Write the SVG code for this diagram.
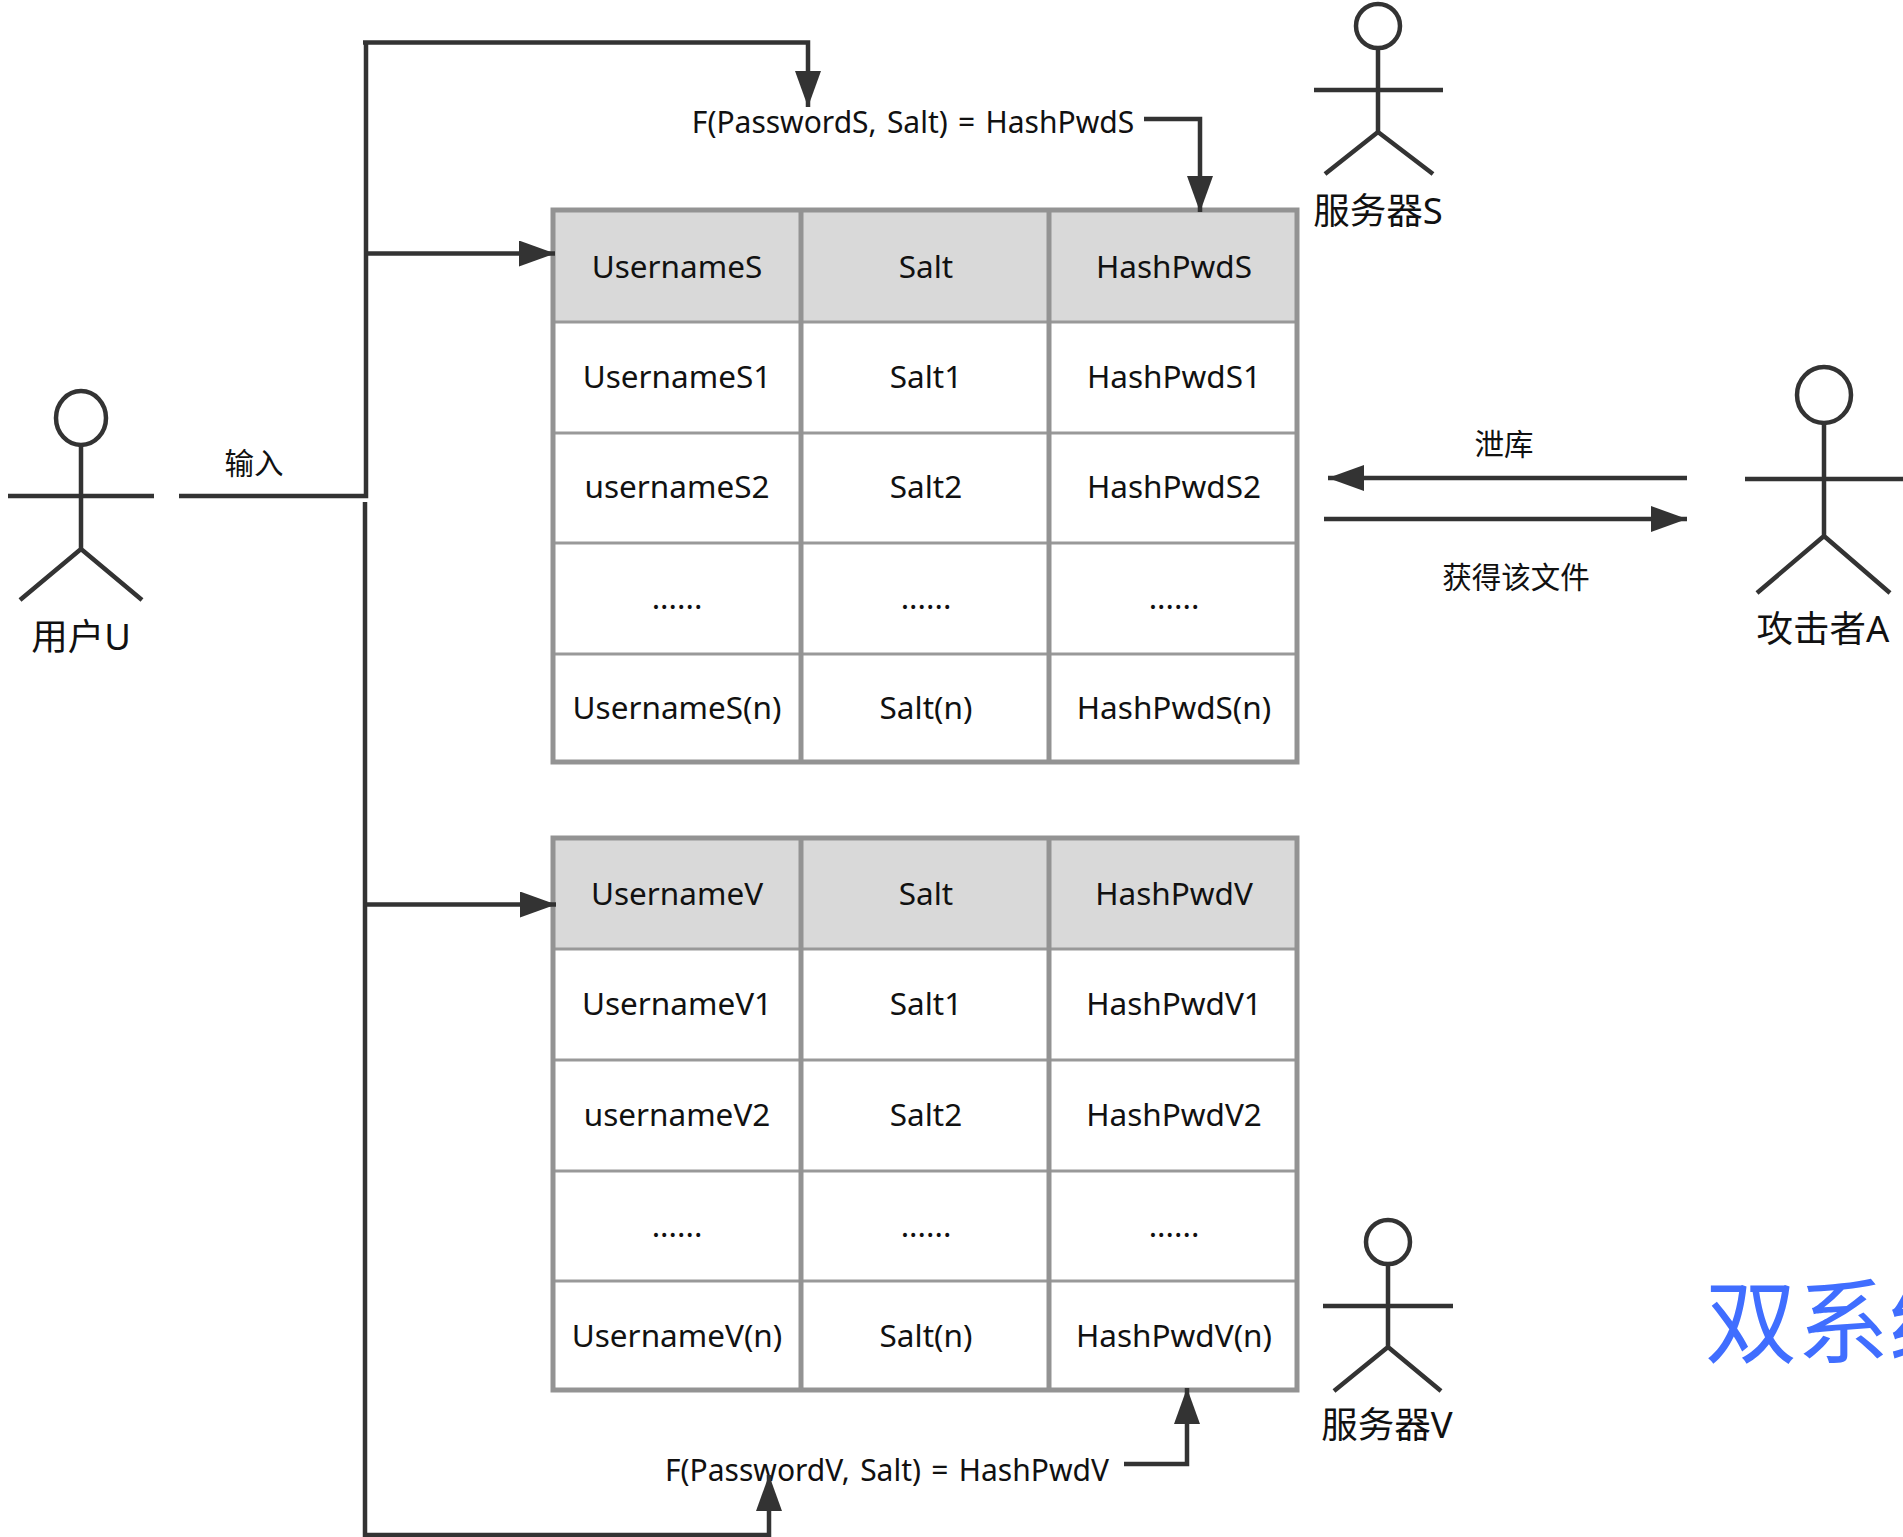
<svg xmlns="http://www.w3.org/2000/svg" width="1903" height="1537" viewBox="0 0 1903 1537">
<style>
text{font-family:"Noto Sans","Noto Sans CJK SC",sans-serif;fill:#111;text-anchor:middle}
.c{font-size:31.5px}.a{font-size:36.5px}.s{font-size:29.5px}.m{font-size:30px;word-spacing:2.5px}
.o{fill:none;stroke:#939393;stroke-width:5}
.g{fill:none;stroke:#999;stroke-width:3}
.h{fill:#d9d9d9}
.l{fill:none;stroke:#333;stroke-width:4.5}
.w{fill:none;stroke:#333;stroke-width:4.5}
</style>
<defs>
<marker id="ah" markerUnits="userSpaceOnUse" markerWidth="38" markerHeight="26" refX="36" refY="13" orient="auto"><path d="M0 0L36 13L0 26Z" fill="#333"/></marker>
</defs>
<rect width="1903" height="1537" fill="#fff"/>
<g id="table-s">
<rect class="h" x="553" y="210" width="744" height="112"/>
<path class="g" d="M553 322H1297M553 433H1297M553 543H1297M553 654H1297"/>
<path class="o" d="M553 210H1297V762H553ZM801 210V762M1049 210V762"/>
<text class="c" x="677" y="278">UsernameS</text><text class="c" x="926" y="278">Salt</text><text class="c" x="1174" y="278">HashPwdS</text>
<text class="c" x="677" y="388">UsernameS1</text><text class="c" x="926" y="388">Salt1</text><text class="c" x="1174" y="388">HashPwdS1</text>
<text class="c" x="677" y="498">usernameS2</text><text class="c" x="926" y="498">Salt2</text><text class="c" x="1174" y="498">HashPwdS2</text>
<text class="c" x="677" y="609">......</text><text class="c" x="926" y="609">......</text><text class="c" x="1174" y="609">......</text>
<text class="c" x="677" y="719">UsernameS(n)</text><text class="c" x="926" y="719">Salt(n)</text><text class="c" x="1174" y="719">HashPwdS(n)</text>
</g>
<g id="table-v">
<rect class="h" x="553" y="838" width="744" height="111"/>
<path class="g" d="M553 949H1297M553 1060H1297M553 1171H1297M553 1281H1297"/>
<path class="o" d="M553 838H1297V1390H553ZM801 838V1390M1049 838V1390"/>
<text class="c" x="677" y="905">UsernameV</text><text class="c" x="926" y="905">Salt</text><text class="c" x="1174" y="905">HashPwdV</text>
<text class="c" x="677" y="1015">UsernameV1</text><text class="c" x="926" y="1015">Salt1</text><text class="c" x="1174" y="1015">HashPwdV1</text>
<text class="c" x="677" y="1126">usernameV2</text><text class="c" x="926" y="1126">Salt2</text><text class="c" x="1174" y="1126">HashPwdV2</text>
<text class="c" x="677" y="1237">......</text><text class="c" x="926" y="1237">......</text><text class="c" x="1174" y="1237">......</text>
<text class="c" x="677" y="1347">UsernameV(n)</text><text class="c" x="926" y="1347">Salt(n)</text><text class="c" x="1174" y="1347">HashPwdV(n)</text>
</g>
<g id="actor-u"><ellipse class="w" cx="81" cy="418" rx="25" ry="27"/><path class="w" d="M81 445V549M8 496H154M81 549L20 600M81 549L142 600"/><text class="a" x="81" y="650">用户U</text></g>
<g id="actor-s"><ellipse class="w" cx="1378" cy="26" rx="22" ry="22"/><path class="w" d="M1378 48V132M1314 90H1443M1378 132L1325 174M1378 132L1433 174"/><text class="a" x="1378" y="224">服务器S</text></g>
<g id="actor-a"><ellipse class="w" cx="1824" cy="395" rx="27" ry="28"/><path class="w" d="M1824 423V536M1745 479H1903M1824 536L1757 593M1824 536L1890 593"/><text class="a" x="1823" y="642">攻击者A</text></g>
<g id="actor-v"><ellipse class="w" cx="1388" cy="1242" rx="22" ry="22"/><path class="w" d="M1388 1264V1347M1323 1306H1453M1388 1347L1334 1391M1388 1347L1441 1391"/><text class="a" x="1387" y="1438">服务器V</text></g>
<g id="labels">
<text class="m" x="913" y="133">F(PasswordS, Salt) = HashPwdS</text>
<text class="m" x="887" y="1481">F(PasswordV, Salt) = HashPwdV</text>
<text class="s" x="254" y="474">输入</text>
<text class="s" x="1504" y="455">泄库</text>
<text class="s" x="1516" y="588">获得该文件</text>
<text x="1705" y="1356" style="font-size:92px;fill:#406eff;text-anchor:start">双系统</text>
</g>
<g id="connectors">
<path class="l" d="M179 496H366V42"/>
<path class="l" d="M363 42.500H808V107" marker-end="url(#ah)"/>
<path class="l" d="M366 253.500H555" marker-end="url(#ah)"/>
<path class="l" d="M365 502V1535H769V1475" marker-end="url(#ah)"/>
<path class="l" d="M365 904.500H556" marker-end="url(#ah)"/>
<path class="l" d="M1144 119H1200V212" marker-end="url(#ah)"/>
<path class="l" d="M1124 1464H1187V1388" marker-end="url(#ah)"/>
<path class="l" d="M1687 478H1328" marker-end="url(#ah)"/>
<path class="l" d="M1324 519H1687" marker-end="url(#ah)"/>
</g>
</svg>
